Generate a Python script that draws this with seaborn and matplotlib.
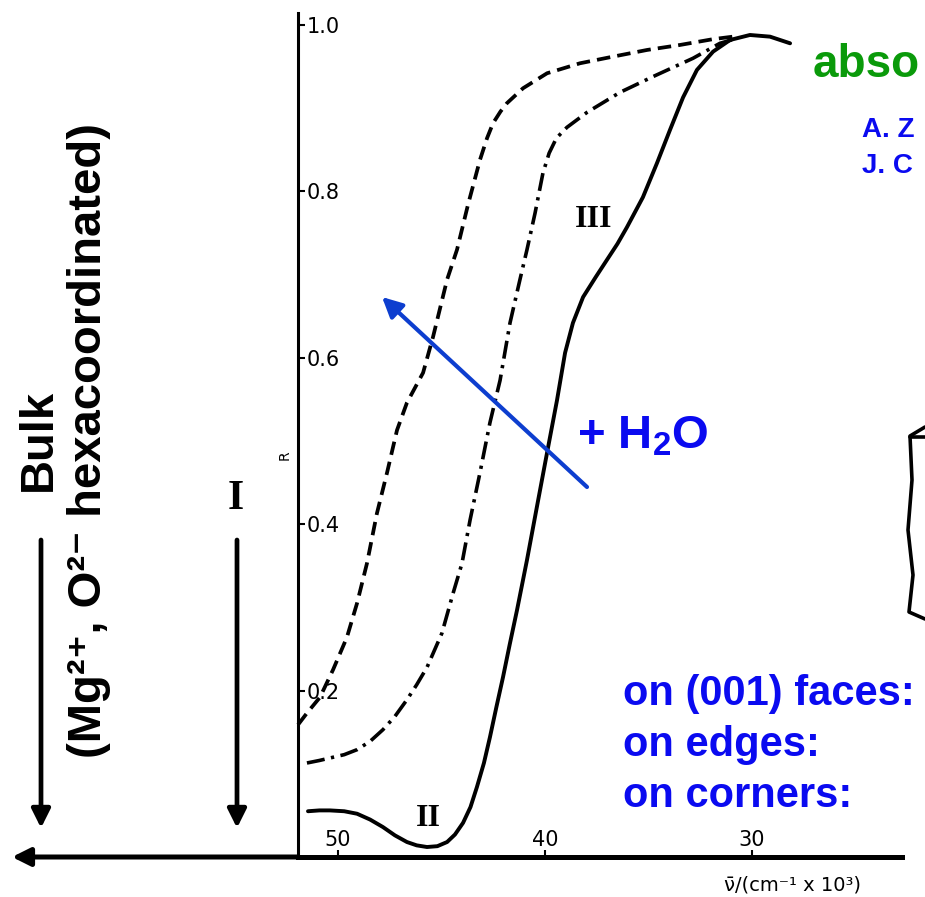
import matplotlib
matplotlib.use("Agg")
import matplotlib.pyplot as plt
import seaborn as sns
import pandas as pd

# ---------------- data ----------------
# curve II/III (solid): wavenumber (10^3 cm^-1) and reflectance R
nu_solid = [51.45, 50.90, 50.39, 49.70, 49.08, 48.45, 47.83, 47.25, 46.67, 46.20,
            45.70, 45.20, 44.73, 44.35, 43.96, 43.60, 43.29, 42.95, 42.66, 42.35,
            42.03, 41.70, 41.35, 40.87, 40.39, 39.90, 39.42, 39.03, 38.65, 38.16,
            37.55, 37.00, 36.50, 36.04, 35.27, 34.59, 33.96, 33.33, 32.66, 31.88,
            31.06, 30.10, 29.13, 28.16]
R_solid = [0.055, 0.056, 0.056, 0.055, 0.052, 0.045, 0.036, 0.026, 0.018, 0.014,
           0.012, 0.013, 0.018, 0.027, 0.041, 0.060, 0.084, 0.113, 0.144, 0.180,
           0.216, 0.256, 0.297, 0.357, 0.421, 0.486, 0.549, 0.606, 0.642, 0.673,
           0.697, 0.718, 0.737, 0.757, 0.793, 0.834, 0.874, 0.913, 0.946, 0.968,
           0.982, 0.988, 0.986, 0.978]

# dash-dot curve
nu_dashdot = [51.50, 50.90, 50.39, 49.70, 49.08, 48.45, 47.83, 47.25, 46.67, 46.20,
              45.70, 44.98, 44.44, 44.01, 43.62, 43.14, 42.66, 42.17, 41.69, 41.21,
              40.87, 40.48, 40.10, 39.80, 39.45, 38.94, 37.97, 36.38, 34.78, 32.85,
              31.55, 30.72]
R_dashdot = [0.113, 0.116, 0.119, 0.123, 0.129, 0.139, 0.153, 0.169, 0.189, 0.207,
             0.228, 0.269, 0.317, 0.353, 0.405, 0.462, 0.522, 0.573, 0.642, 0.694,
             0.730, 0.774, 0.822, 0.846, 0.864, 0.877, 0.895, 0.919, 0.938, 0.960,
             0.978, 0.984]

# dashed curve
nu_dashed = [51.93, 51.50, 50.87, 50.24, 49.57, 49.08, 48.60, 48.12, 47.63, 47.15,
             46.67, 45.89, 45.41, 44.73, 44.25, 43.72, 43.14, 42.80, 42.51, 42.15,
             41.84, 41.06, 39.90, 38.31, 36.71, 35.07, 33.48, 31.88, 30.92]
R_dashed = [0.159, 0.173, 0.192, 0.225, 0.264, 0.305, 0.353, 0.413, 0.462, 0.513,
            0.546, 0.582, 0.625, 0.694, 0.730, 0.784, 0.838, 0.864, 0.882, 0.896,
            0.906, 0.924, 0.942, 0.954, 0.962, 0.970, 0.976, 0.983, 0.986]

x_ticks = [50, 40, 30]
x_tick_labels = ["50", "40", "30"]
y_ticks = [0.2, 0.4, 0.6, 0.8, 1.0]
y_tick_labels = ["0.2", "0.4", "0.6", "0.8", "1.0"]

# clipped hand-drawn bracket at the right edge (pixel positions in the picture)
bracket_px_x = [925, 910, 912, 908, 913, 909, 925]
bracket_px_y = [427, 436, 480, 530, 575, 612, 619]

# ---------------- figure ----------------
W, H = 925, 897
sns.set_theme(style="white")
plt.rcParams["font.family"] = ["DejaVu Sans"]
plt.rcParams["mathtext.fontset"] = "custom"
plt.rcParams["mathtext.rm"] = "Liberation Sans:bold"
plt.rcParams["mathtext.bf"] = "Liberation Sans:bold"
plt.rcParams["mathtext.it"] = "Liberation Sans:bold:italic"
plt.rcParams["mathtext.sf"] = "Liberation Sans:bold"

fig = plt.figure(figsize=(W / 100, H / 100), dpi=100)
ax = fig.add_axes([0, 0, 1, 1])
ax.set_facecolor("white")


def gx(x):
    """picture x pixel -> wavenumber"""
    return 50 - (x - 338) / 20.7


def gy(y):
    """picture y pixel -> R"""
    return (857 - y) / 832


ax.set_xlim(gx(0), gx(W))
ax.set_ylim(gy(H), gy(0))

df_solid = pd.DataFrame({"nu": nu_solid, "R": R_solid})
df_dd = pd.DataFrame({"nu": nu_dashdot, "R": R_dashdot})
df_da = pd.DataFrame({"nu": nu_dashed, "R": R_dashed})

sns.lineplot(data=df_solid, x="nu", y="R", ax=ax, color="black", linewidth=2.8,
             estimator=None, sort=False, solid_joinstyle="round")
sns.lineplot(data=df_dd, x="nu", y="R", ax=ax, color="black", linewidth=2.6,
             estimator=None, sort=False, linestyle=(0, (5.0, 1.8, 0.9, 1.8)))
sns.lineplot(data=df_da, x="nu", y="R", ax=ax, color="black", linewidth=2.7,
             estimator=None, sort=False, linestyle=(0, (3.6, 1.9)))

# axes: y axis drawn on the "right" spine placed at the left edge of the data
for s in ["left", "bottom"]:
    ax.spines[s].set_visible(False)
ax.spines["top"].set_position(("data", 0))
ax.spines["top"].set_bounds(gx(902), gx(298))
ax.spines["top"].set_linewidth(3.6)
ax.spines["top"].set_color("black")
ax.spines["right"].set_position(("data", gx(298)))
ax.spines["right"].set_bounds(0, gy(13))
ax.spines["right"].set_linewidth(2.2)
ax.spines["right"].set_color("black")

ax.set_xticks(x_ticks, x_tick_labels)
ax.set_yticks(y_ticks, y_tick_labels)
ax.tick_params(axis="x", top=True, labeltop=True, bottom=False, labelbottom=False,
               direction="out", length=5, width=1.5, pad=0, labelsize=15,
               colors="black")
ax.tick_params(axis="y", right=True, labelright=True, left=False, labelleft=False,
               direction="out", length=5, width=1.5, pad=1, labelsize=15,
               colors="black")
ax.set_xlabel("")
ax.set_ylabel("")
ax.grid(False)

# left-pointing arrow continuing the x axis
ax.annotate("", xy=(gx(12), 0), xytext=(gx(298), 0),
            arrowprops=dict(arrowstyle="-|>", lw=3.6, color="black",
                            mutation_scale=27, shrinkA=0, shrinkB=0))
# vertical arrows (Bulk, I)
for xp in (41, 237):
    ax.annotate("", xy=(gx(xp), gy(828)), xytext=(gx(xp), gy(540)),
                arrowprops=dict(arrowstyle="-|>", lw=3.4, color="black",
                                mutation_scale=28, shrinkA=0, shrinkB=0))
# blue + H2O arrow
ax.annotate("", xy=(gx(382), gy(297)), xytext=(gx(587), gy(487)),
            arrowprops=dict(arrowstyle="-|>", lw=3.0, color="#0d3ecf",
                            mutation_scale=30, shrinkA=0, shrinkB=0))

# bracket fragment
ax.plot([gx(v) for v in bracket_px_x], [gy(v) for v in bracket_px_y],
        color="black", lw=2.6, solid_joinstyle="round")
ax.plot([gx(910), gx(925)], [gy(437), gy(437)], color="black", lw=2.6)


def T(x, y, s, **kw):
    ax.text(x / W, 1 - y / H, s, transform=ax.transAxes, **kw)


sans = ["Liberation Sans", "DejaVu Sans"]
serif = ["Liberation Serif", "DejaVu Serif"]
blue = "#0a0af0"

T(813, 77, "abso", fontsize=33, fontweight="bold", color="#0a9a0a",
  family=sans, va="baseline", ha="left")
T(862, 137, "A. Z", fontsize=20, fontweight="bold", color=blue,
  family=sans, va="baseline", ha="left")
T(862, 173, "J. C", fontsize=20, fontweight="bold", color=blue,
  family=sans, va="baseline", ha="left")
T(577, 448, "+ H$_2$O", fontsize=34, fontweight="bold", color=blue,
  family=sans, va="baseline", ha="left")
T(623, 705, "on (001) faces:", fontsize=30, fontweight="bold", color=blue,
  family=sans, va="baseline", ha="left")
T(623, 756, "on edges:", fontsize=30, fontweight="bold", color=blue,
  family=sans, va="baseline", ha="left")
T(623, 807, "on corners:", fontsize=30, fontweight="bold", color=blue,
  family=sans, va="baseline", ha="left")

T(64, 440, "Bulk\n(Mg\u00b2\u207a, O\u00b2\u207b hexacoordinated)", fontsize=34,
  fontweight="bold", color="black", family=sans, rotation=90,
  ha="center", va="center", multialignment="center", linespacing=1.2)

T(594, 219, "III", fontsize=23, fontweight="bold", family=serif,
  ha="center", va="center", color="black")
T(428, 819, "II", fontsize=23, fontweight="bold", family=serif,
  ha="center", va="center", color="black")
T(236, 499, "I", fontsize=30, fontweight="bold", family=serif,
  ha="center", va="center", color="black")
T(285, 455, "R", fontsize=10, rotation=90, ha="center", va="center",
  color="black")
T(793, 885, "ν\u0304/(cm\u207b\u00b9 x 10\u00b3)", fontsize=14,
  ha="center", va="center", color="black")

fig.savefig("out.png", dpi=100, facecolor="white")
